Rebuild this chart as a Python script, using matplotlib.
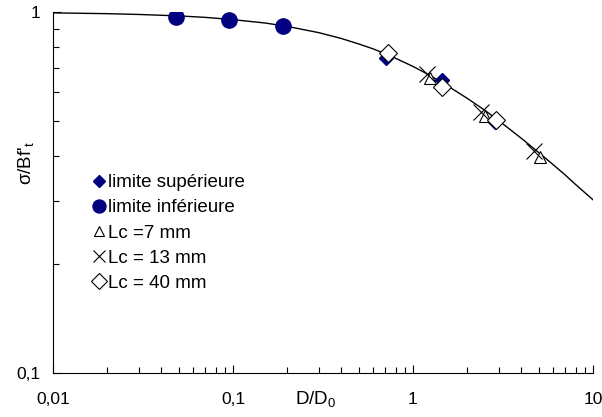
import numpy as np
import matplotlib.pyplot as plt
from matplotlib.ticker import NullFormatter

plt.rcParams['font.family'] = ['Liberation Sans', 'DejaVu Sans']

# size effect curve
curve_x = [0.01, 0.02, 0.03, 0.05, 0.07, 0.1, 0.15, 0.2, 0.3, 0.4, 0.5, 0.6, 0.7,
           0.8, 1.0, 1.2, 1.5, 2.0, 2.5, 3.0, 4.0, 5.0, 6.0, 7.0, 8.0, 10.0]
curve_y = [0.995, 0.990, 0.985, 0.976, 0.967, 0.953, 0.933, 0.913, 0.877, 0.845,
           0.816, 0.791, 0.767, 0.745, 0.707, 0.674, 0.632, 0.577, 0.535, 0.500,
           0.447, 0.408, 0.378, 0.354, 0.333, 0.302]

# limits
sup_x = [0.71, 1.45, 2.85]
sup_y = [0.745, 0.648, 0.495]
inf_x = [0.048, 0.095, 0.19]
inf_y = [0.969, 0.950, 0.915]

# tests
lc7_x = [1.25, 2.5, 5.1]
lc7_y = [0.655, 0.515, 0.398]
lc13_x = [1.2, 2.38, 4.7]
lc13_y = [0.672, 0.528, 0.413]
lc40_x = [0.73, 1.45, 2.9]
lc40_y = [0.768, 0.62, 0.502]

labels = ['limite supérieure', 'limite inférieure', 'Lc =7 mm', 'Lc = 13 mm', 'Lc = 40 mm']

fig = plt.figure(figsize=(6.02, 4.17), dpi=100)
ax = fig.add_axes([0.088, 0.1055, 0.897, 0.8655])

ax.plot(curve_x, curve_y, color='black', lw=1.0, zorder=1)
ax.plot(sup_x, sup_y, 'D', color='#000080', ms=7, ls='none', label=labels[0], zorder=2)
ax.plot(inf_x, inf_y, 'o', color='#000080', ms=11, ls='none', label=labels[1], zorder=2)
ax.plot(lc7_x, lc7_y, '^', mfc='white', mec='black', ms=8, mew=0.8, ls='none', label=labels[2], zorder=3)
ax.plot(lc13_x, lc13_y, 'x', color='black', ms=11, mew=0.8, ls='none', label=labels[3], zorder=3)
ax.plot(lc40_x, lc40_y, 'D', mfc='white', mec='black', ms=9, mew=0.8, ls='none', label=labels[4], zorder=3)

ax.set_xscale('log')
ax.set_yscale('log')
ax.set_xlim(0.01, 10)
ax.set_ylim(0.1, 1)

ax.spines['top'].set_visible(False)
ax.spines['right'].set_visible(False)

ax.set_xticks([0.01, 0.1, 1, 10])
ax.set_xticklabels(['0,01', '0,1', '1', '10'])
ax.set_yticks([0.1, 1])
ax.set_yticklabels(['0,1', '1'])
ax.xaxis.set_minor_formatter(NullFormatter())
ax.yaxis.set_minor_formatter(NullFormatter())
ax.tick_params(which='major', direction='in', length=6, width=0.8, labelsize=12.5)
ax.tick_params(which='minor', direction='in', length=4, width=0.8)
ax.tick_params(axis='x', which='major', pad=14)
ax.tick_params(axis='y', which='major', pad=9)

ax.text(0.487, -0.075, 'D/D$_\\mathregular{0}$', transform=ax.transAxes, ha='center', va='center', fontsize=13.5)
fig.text(0.045, 0.61, "σ/Bf'$_\\mathregular{t}$", rotation=90, ha='center', va='center', fontsize=13.5)

ax.legend(loc='upper left', bbox_to_anchor=(0.057, 0.572), frameon=False, fontsize=13.5,
          handlelength=0.8, handletextpad=0.1, labelspacing=0.43, markerscale=0.85,
          borderaxespad=0)

plt.savefig('out.png', dpi=100)
